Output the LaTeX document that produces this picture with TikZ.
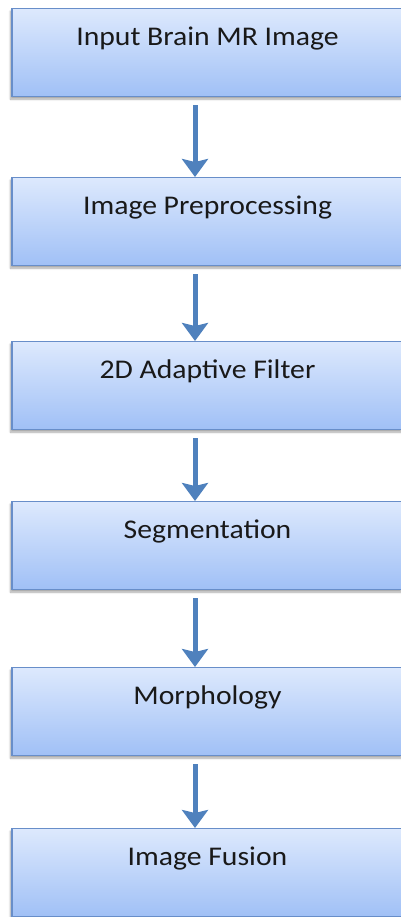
\documentclass[tikz,border=0pt]{standalone}
\usepackage{fontspec}
\setmainfont{Carlito}
\newfontfamily\stagefont[FakeStretch=1.1]{Carlito}
\usetikzlibrary{arrows.meta,shadows.blur}

\definecolor{boxtop}{RGB}{221,233,253}
\definecolor{boxbottom}{RGB}{160,192,246}
\definecolor{boxline}{RGB}{104,142,201}
\definecolor{flowblue}{RGB}{79,129,189}
\definecolor{labeltext}{RGB}{25,25,25}

\tikzset{
  stagebox/.style={
    draw=boxline, line width=1.3pt,
    top color=boxtop, bottom color=boxbottom,
    minimum width=391pt, inner sep=0pt,
    text height=37pt, text depth=51pt,
    font=\stagefont\fontsize{27}{32}\selectfont, text=labeltext,
    blur shadow={shadow xshift=-1.5pt, shadow yshift=-2.5pt,
                 shadow blur steps=6, shadow opacity=35}
  },
  flowarrow/.style={
    draw=flowblue, line width=5pt,
    -{Stealth[width=26pt,length=18pt,inset=3pt]}
  }
}

\begin{document}
\begin{tikzpicture}[x=1pt,y=-1pt]
  \useasboundingbox (0,0) rectangle (401,917);

  % processing stages, top to bottom
  \node[stagebox] (input)   at (207.5, 8)   [anchor=north] {Input Brain MR Image};
  \node[stagebox] (prep)    at (207.5, 177) [anchor=north] {Image Preprocessing};
  \node[stagebox] (filter)  at (207.5, 341) [anchor=north] {2D Adaptive Filter};
  \node[stagebox] (segm)    at (207.5, 501) [anchor=north] {Segmentation};
  \node[stagebox] (morph)   at (207.5, 667) [anchor=north] {Morphology};
  \node[stagebox] (fusion)  at (207.5, 828) [anchor=north] {Image Fusion};

  % connectors between consecutive stages
  \foreach \a/\b in {input/prep, prep/filter, filter/segm, segm/morph, morph/fusion}
    \draw[flowarrow] ([shift={(-12.5pt,-8pt)}]\a.south) -- ([xshift=-12.5pt]\b.north);
\end{tikzpicture}
\end{document}
